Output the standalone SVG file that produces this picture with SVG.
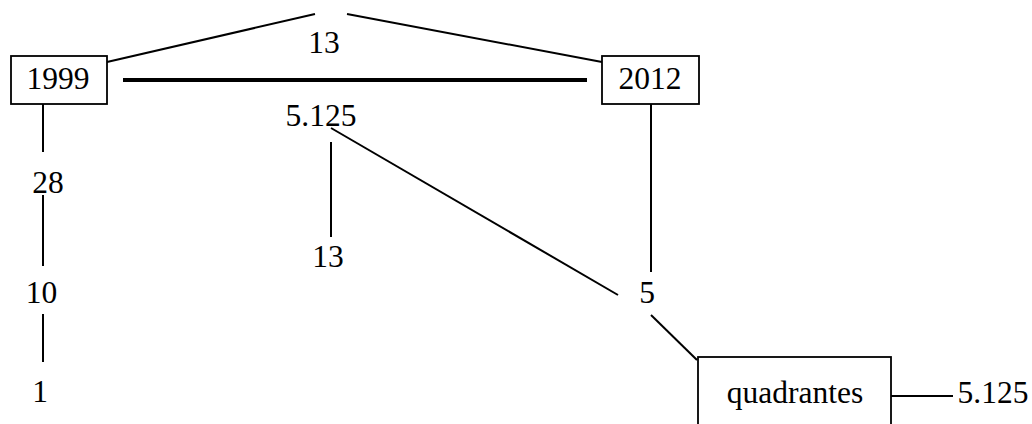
<svg xmlns="http://www.w3.org/2000/svg" width="1032" height="424" viewBox="0 0 1032 424">
<style>
.box{fill:#fff;stroke:#000;stroke-width:1.8}
.ln{stroke:#000;stroke-width:2;fill:none}
.thick{stroke:#000;stroke-width:4;fill:none}
text{font-family:"Liberation Serif","Times New Roman",serif;font-size:31.5px;fill:#000;text-anchor:middle}
</style>
<rect width="1032" height="424" fill="#fff"/>
<g id="connectors">
<line class="ln" x1="107" y1="62" x2="315" y2="14"/>
<line class="ln" x1="347" y1="14" x2="602" y2="62"/>
<line class="thick" x1="123" y1="80" x2="587" y2="80"/>
<line class="ln" x1="331" y1="128" x2="618" y2="295"/>
<line class="ln" x1="331" y1="142" x2="331" y2="237"/>
<line class="ln" x1="43" y1="104" x2="43" y2="152"/>
<line class="ln" x1="43" y1="195" x2="43" y2="266"/>
<line class="ln" x1="43" y1="314" x2="43" y2="362"/>
<line class="ln" x1="651" y1="104" x2="651" y2="272"/>
<line class="ln" x1="651" y1="315" x2="697" y2="360"/>
<line class="ln" x1="891" y1="396" x2="953" y2="396"/>
</g>
<g id="n1999"><rect class="box" x="11" y="56" width="96" height="48"/><text x="58" y="89">1999</text></g>
<g id="n2012"><rect class="box" x="602" y="56" width="97" height="48"/><text x="650" y="89">2012</text></g>
<g id="nquadrantes"><rect class="box" x="698" y="357" width="193" height="90"/><text x="795" y="403">quadrantes</text></g>
<g id="l13top"><text x="324" y="53">13</text></g>
<g id="l5125a"><text x="321" y="126">5.125</text></g>
<g id="l13mid"><text x="328" y="267">13</text></g>
<g id="l28"><text x="48" y="193">28</text></g>
<g id="l10"><text x="41.5" y="303">10</text></g>
<g id="l1"><text x="40" y="402">1</text></g>
<g id="l5"><text x="647" y="303">5</text></g>
<g id="l5125b"><text x="993" y="403">5.125</text></g>
</svg>
